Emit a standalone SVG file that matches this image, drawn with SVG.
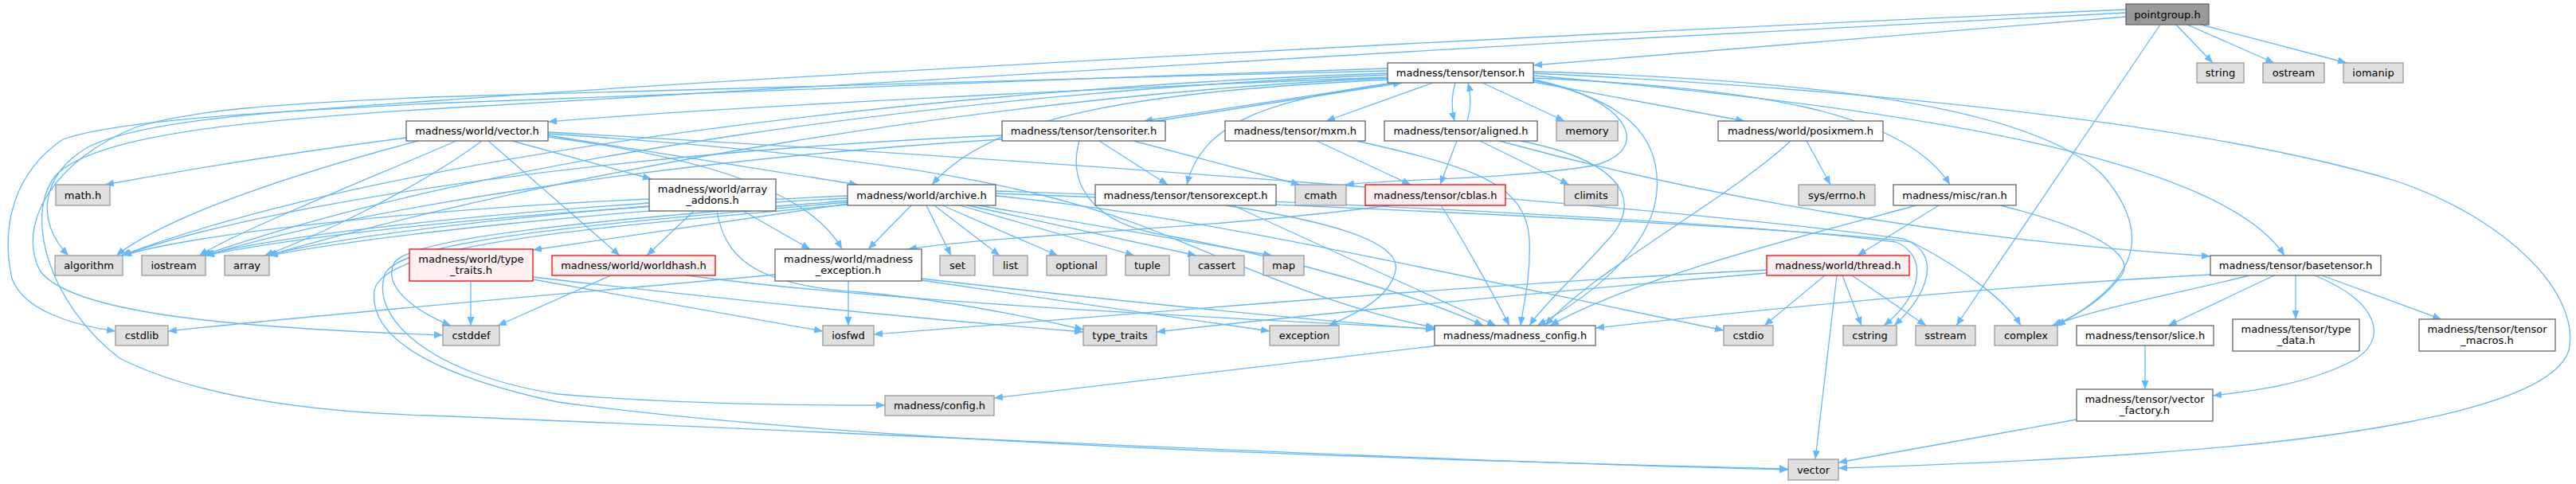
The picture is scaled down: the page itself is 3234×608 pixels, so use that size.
<svg xmlns="http://www.w3.org/2000/svg" width="3234" height="608" viewBox="0 0 3234 608">
<defs>
<style>
rect{stroke-width:1.3}
.w rect{fill:#ffffff;stroke:#666666}
.g rect{fill:#e0e0e0;stroke:#999999}
.r rect{fill:#fff0f0;stroke:#ff0000}
.root rect{fill:#999999;stroke:#666666}
text{font-family:"DejaVu Sans","Liberation Sans",sans-serif;font-size:13px;fill:#000000;text-anchor:middle}
#edges path{fill:none;stroke:#63b8ff;stroke-width:1.3;marker-end:url(#ah)}
</style>
<marker id="ah" viewBox="0 0 11 9" refX="11" refY="4.5" markerWidth="11" markerHeight="9" markerUnits="userSpaceOnUse" orient="auto"><path d="M0,0 L11,4.5 L0,9 z" fill="#63b8ff"/></marker>
</defs>
<rect x="0" y="0" width="3234" height="608" fill="#ffffff"/>
<g id="edges">
<path d="M2669,21 L1925,82"/>
<path d="M2732,31 L2778,79"/>
<path d="M2746,31 L2855,79"/>
<path d="M2763,31 L2946,79"/>
<path d="M2712,31 L2456,409"/>
<path d="M2669,12 C1800,50 900,100 540,127 C350,140 180,150 110,185 C50,220 45,280 86,321"/>
<path d="M2669,16 C1900,55 900,112 540,137 C300,152 120,170 70,220 C30,270 60,380 150,450 C250,500 400,518 540,522 C1000,540 1800,580 2245,590"/>
<path d="M1742,97 C1400,110 900,135 688,153"/>
<path d="M1752,104 L1436,152"/>
<path d="M1452,152 L1760,104"/>
<path d="M1742,100 C1450,115 1250,140 1170,232"/>
<path d="M1750,104 C1600,125 1510,150 1490,232"/>
<path d="M1799,104 L1665,152"/>
<path d="M1827,104 C1822,120 1822,136 1826,152"/>
<path d="M1842,152 C1847,136 1847,120 1843,104"/>
<path d="M1861,104 L1964,152"/>
<path d="M1925,100 C2050,125 2075,190 2000,208 C1900,225 1750,225 1689,232"/>
<path d="M1925,103 L2190,152"/>
<path d="M1925,98 C2200,110 2390,140 2448,232"/>
<path d="M1925,95 C2400,135 2790,200 2868,321"/>
<path d="M1925,92 C2300,110 2750,150 3007,227 C3150,275 3240,370 3225,440 C3200,520 2900,555 2700,569 C2550,580 2400,585 2308,588"/>
<path d="M1925,90 C2300,100 2560,140 2640,220 C2700,290 2690,350 2582,409"/>
<path d="M1925,101 C2040,125 2085,170 2080,240 C2075,310 2000,370 1930,409"/>
<path d="M1742,86 C1300,100 800,118 540,130 C350,140 150,150 79,175 C20,215 0,280 15,350 C30,390 90,408 145,416"/>
<path d="M1742,89 C1300,100 800,112 540,122 C350,130 240,138 170,160 C70,200 20,280 50,340 C90,395 300,412 556,421"/>
<path d="M1742,92 C1200,110 500,190 152,321"/>
<path d="M1742,94 C1200,115 600,200 254,321"/>
<path d="M1742,98 C1250,120 700,215 336,321"/>
<path d="M510,173 C380,190 240,212 132,232"/>
<path d="M525,177 C380,215 210,270 146,321"/>
<path d="M573,177 C450,230 300,290 250,321"/>
<path d="M605,177 C520,240 390,300 332,321"/>
<path d="M643,177 L818,225"/>
<path d="M613,177 L778,321"/>
<path d="M688,170 L1077,232"/>
<path d="M688,172 C900,200 1020,245 1057,313"/>
<path d="M688,168 C1100,195 1300,230 1450,290 C1560,335 1700,395 1801,411"/>
<path d="M688,166 C1300,200 2100,260 2390,300 C2440,320 2420,370 2378,409"/>
<path d="M815,250 C550,262 260,290 154,321"/>
<path d="M815,255 C600,270 350,295 256,321"/>
<path d="M815,259 C620,275 420,298 336,321"/>
<path d="M871,265 L812,321"/>
<path d="M933,265 L1017,313"/>
<path d="M900,265 C910,320 940,358 1080,367 C1200,378 1300,400 1360,414"/>
<path d="M1144,258 L1090,313"/>
<path d="M1163,258 L1194,321"/>
<path d="M1173,258 L1255,321"/>
<path d="M1183,258 L1328,321"/>
<path d="M1205,258 L1424,321"/>
<path d="M1215,258 L1502,321"/>
<path d="M1228,258 L1597,321"/>
<path d="M1064,256 L669,314"/>
<path d="M1064,246 C700,262 400,292 258,321"/>
<path d="M1064,249 C750,265 480,295 338,321"/>
<path d="M1064,252 C780,275 520,295 495,330 C480,360 520,390 566,409"/>
<path d="M1064,254 C770,280 500,300 483,345 C465,400 540,470 700,495 C850,508 1000,509 1111,509"/>
<path d="M1064,257 C760,285 480,305 470,365 C462,430 560,475 700,505 C1100,560 1800,578 2245,589"/>
<path d="M1250,246 C1500,270 1800,340 2164,415"/>
<path d="M1250,240 C1700,255 2200,280 2380,304 C2420,320 2415,370 2365,409"/>
<path d="M1250,243 C1700,260 2250,285 2400,304 C2470,340 2520,380 2537,409"/>
<path d="M591,353 L591,409"/>
<path d="M669,351 L1033,416"/>
<path d="M669,348 C900,375 1150,400 1360,417"/>
<path d="M767,346 L625,409"/>
<path d="M862,346 C1100,378 1500,398 1801,413"/>
<path d="M1065,353 L1065,409"/>
<path d="M973,345 C700,370 400,395 211,416"/>
<path d="M1157,350 C1400,378 1600,398 1801,414"/>
<path d="M1157,352 L1594,416"/>
<path d="M1380,177 L1466,232"/>
<path d="M1423,177 L1632,232"/>
<path d="M1258,170 C800,190 350,250 154,321"/>
<path d="M1258,175 C850,200 450,262 258,321"/>
<path d="M1355,177 C1340,230 1370,280 1460,295 C1600,320 1780,370 1862,409"/>
<path d="M1538,258 C1650,275 1760,300 1752,340 C1745,375 1700,395 1668,409"/>
<path d="M1548,258 L1878,409"/>
<path d="M1653,177 L1771,232"/>
<path d="M1703,177 C1850,210 1915,230 1920,300 C1922,350 1912,385 1909,409"/>
<path d="M1829,177 L1808,232"/>
<path d="M1858,177 L1970,232"/>
<path d="M1909,177 C2050,205 2060,260 2016,304 C1980,345 1940,380 1920,409"/>
<path d="M1882,177 C2150,250 2450,300 2775,322"/>
<path d="M1809,258 C1830,290 1870,360 1895,409"/>
<path d="M1745,258 C1500,290 1250,295 1140,313"/>
<path d="M2248,177 C2170,250 2000,340 1940,409"/>
<path d="M2268,177 L2298,232"/>
<path d="M2406,258 C2250,300 2050,350 1946,409"/>
<path d="M2434,258 L2332,321"/>
<path d="M2511,258 C2620,285 2690,320 2660,350 C2640,375 2610,395 2578,409"/>
<path d="M2291,346 L2215,409"/>
<path d="M2306,346 L2279,577"/>
<path d="M2313,346 L2337,409"/>
<path d="M2325,346 L2418,409"/>
<path d="M2218,339 C1800,360 1300,405 1097,420"/>
<path d="M2218,343 C1900,370 1600,400 1452,417"/>
<path d="M2775,345 C2500,360 2200,390 2003,412"/>
<path d="M2824,346 C2750,365 2640,385 2576,409"/>
<path d="M2855,346 L2722,409"/>
<path d="M2882,346 L2882,401"/>
<path d="M2906,346 C2990,380 3000,430 2950,455 C2890,485 2820,492 2778,497"/>
<path d="M2915,346 L3065,401"/>
<path d="M2693,434 L2693,489"/>
<path d="M2607,527 L2308,581"/>
<path d="M1806,434 L1248,500"/>
</g>
<g id="n-pointgroup" class="root"><rect x="2669" y="5" width="104" height="26"/><text x="2721" y="22.5">pointgroup.h</text></g>
<g id="n-string" class="g"><rect x="2758" y="79" width="59" height="25"/><text x="2787.5" y="96">string</text></g>
<g id="n-ostream" class="g"><rect x="2841" y="79" width="77" height="25"/><text x="2879.5" y="96">ostream</text></g>
<g id="n-iomanip" class="g"><rect x="2942" y="79" width="75" height="25"/><text x="2979.5" y="96">iomanip</text></g>
<g id="n-tensor" class="w"><rect x="1742" y="79" width="183" height="25"/><text x="1833.5" y="96">madness/tensor/tensor.h</text></g>
<g id="n-vectorh" class="w"><rect x="510" y="152" width="178" height="25"/><text x="599" y="169">madness/world/vector.h</text></g>
<g id="n-tensoriter" class="w"><rect x="1258" y="152" width="205" height="25"/><text x="1360.5" y="169">madness/tensor/tensoriter.h</text></g>
<g id="n-mxm" class="w"><rect x="1538" y="152" width="176" height="25"/><text x="1626" y="169">madness/tensor/mxm.h</text></g>
<g id="n-aligned" class="w"><rect x="1738" y="152" width="192" height="25"/><text x="1834" y="169">madness/tensor/aligned.h</text></g>
<g id="n-memory" class="g"><rect x="1954" y="152" width="77" height="25"/><text x="1992.5" y="169">memory</text></g>
<g id="n-posixmem" class="w"><rect x="2157" y="152" width="207" height="25"/><text x="2260.5" y="169">madness/world/posixmem.h</text></g>
<g id="n-errno" class="g"><rect x="2258" y="232" width="96" height="26"/><text x="2306" y="249.5">sys/errno.h</text></g>
<g id="n-ran" class="w"><rect x="2377" y="232" width="154" height="26"/><text x="2454" y="249.5">madness/misc/ran.h</text></g>
<g id="n-math" class="g"><rect x="70" y="232" width="68" height="26"/><text x="104" y="249.5">math.h</text></g>
<g id="n-addons" class="w"><rect x="815" y="225" width="159" height="40"/><text x="894.5" y="242">madness/world/array</text><text x="894.5" y="256">_addons.h</text></g>
<g id="n-archive" class="w"><rect x="1064" y="232" width="186" height="26"/><text x="1157" y="249.5">madness/world/archive.h</text></g>
<g id="n-tensorexcept" class="w"><rect x="1375" y="232" width="227" height="26"/><text x="1488.5" y="249.5">madness/tensor/tensorexcept.h</text></g>
<g id="n-cmath" class="g"><rect x="1626" y="232" width="64" height="26"/><text x="1658" y="249.5">cmath</text></g>
<g id="n-cblas" class="r"><rect x="1714" y="232" width="176" height="26"/><text x="1802" y="249.5">madness/tensor/cblas.h</text></g>
<g id="n-climits" class="g"><rect x="1964" y="232" width="67" height="26"/><text x="1997.5" y="249.5">climits</text></g>
<g id="n-algorithm" class="g"><rect x="69" y="321" width="85" height="25"/><text x="111.5" y="338">algorithm</text></g>
<g id="n-iostream" class="g"><rect x="178" y="321" width="80" height="25"/><text x="218" y="338">iostream</text></g>
<g id="n-array" class="g"><rect x="282" y="321" width="56" height="25"/><text x="310" y="338">array</text></g>
<g id="n-wtypetraits" class="r"><rect x="514" y="313" width="155" height="40"/><text x="591.5" y="329.5">madness/world/type</text><text x="591.5" y="343.5">_traits.h</text></g>
<g id="n-worldhash" class="r"><rect x="693" y="321" width="205" height="25"/><text x="795.5" y="338">madness/world/worldhash.h</text></g>
<g id="n-mexception" class="w"><rect x="973" y="313" width="184" height="40"/><text x="1065" y="329.5">madness/world/madness</text><text x="1065" y="343.5">_exception.h</text></g>
<g id="n-set" class="g"><rect x="1180" y="321" width="44" height="25"/><text x="1202" y="338">set</text></g>
<g id="n-list" class="g"><rect x="1247" y="321" width="43" height="25"/><text x="1268.5" y="338">list</text></g>
<g id="n-optional" class="g"><rect x="1314" y="321" width="75" height="25"/><text x="1351.5" y="338">optional</text></g>
<g id="n-tuple" class="g"><rect x="1413" y="321" width="55" height="25"/><text x="1440.5" y="338">tuple</text></g>
<g id="n-cassert" class="g"><rect x="1493" y="321" width="69" height="25"/><text x="1527.5" y="338">cassert</text></g>
<g id="n-map" class="g"><rect x="1586" y="321" width="51" height="25"/><text x="1611.5" y="338">map</text></g>
<g id="n-cstdlib" class="g"><rect x="145" y="409" width="66" height="25"/><text x="178" y="426">cstdlib</text></g>
<g id="n-cstddef" class="g"><rect x="556" y="409" width="71" height="25"/><text x="591.5" y="426">cstddef</text></g>
<g id="n-iosfwd" class="g"><rect x="1033" y="409" width="64" height="25"/><text x="1065" y="426">iosfwd</text></g>
<g id="n-type_traits" class="g"><rect x="1360" y="409" width="92" height="25"/><text x="1406" y="426">type_traits</text></g>
<g id="n-exception" class="g"><rect x="1594" y="409" width="87" height="25"/><text x="1637.5" y="426">exception</text></g>
<g id="n-mconfig" class="w"><rect x="1801" y="409" width="202" height="25"/><text x="1902" y="426">madness/madness_config.h</text></g>
<g id="n-config" class="g"><rect x="1111" y="497" width="137" height="25"/><text x="1179.5" y="514">madness/config.h</text></g>
<g id="n-cstdio" class="g"><rect x="2164" y="409" width="62" height="25"/><text x="2195" y="426">cstdio</text></g>
<g id="n-thread" class="r"><rect x="2218" y="321" width="179" height="25"/><text x="2307.5" y="338">madness/world/thread.h</text></g>
<g id="n-cstring" class="g"><rect x="2314" y="409" width="67" height="25"/><text x="2347.5" y="426">cstring</text></g>
<g id="n-sstream" class="g"><rect x="2405" y="409" width="75" height="25"/><text x="2442.5" y="426">sstream</text></g>
<g id="n-complex" class="g"><rect x="2504" y="409" width="79" height="25"/><text x="2543.5" y="426">complex</text></g>
<g id="n-slice" class="w"><rect x="2607" y="409" width="172" height="25"/><text x="2693" y="426">madness/tensor/slice.h</text></g>
<g id="n-vfactory" class="w"><rect x="2607" y="489" width="171" height="40"/><text x="2692.5" y="506">madness/tensor/vector</text><text x="2692.5" y="520">_factory.h</text></g>
<g id="n-vector" class="g"><rect x="2245" y="577" width="63" height="26"/><text x="2276.5" y="594.5">vector</text></g>
<g id="n-basetensor" class="w"><rect x="2775" y="321" width="214" height="25"/><text x="2882" y="338">madness/tensor/basetensor.h</text></g>
<g id="n-typedata" class="w"><rect x="2803" y="401" width="159" height="40"/><text x="2882.5" y="418">madness/tensor/type</text><text x="2882.5" y="432">_data.h</text></g>
<g id="n-macros" class="w"><rect x="3037" y="401" width="171" height="40"/><text x="3122.5" y="418">madness/tensor/tensor</text><text x="3122.5" y="432">_macros.h</text></g>
</svg>
